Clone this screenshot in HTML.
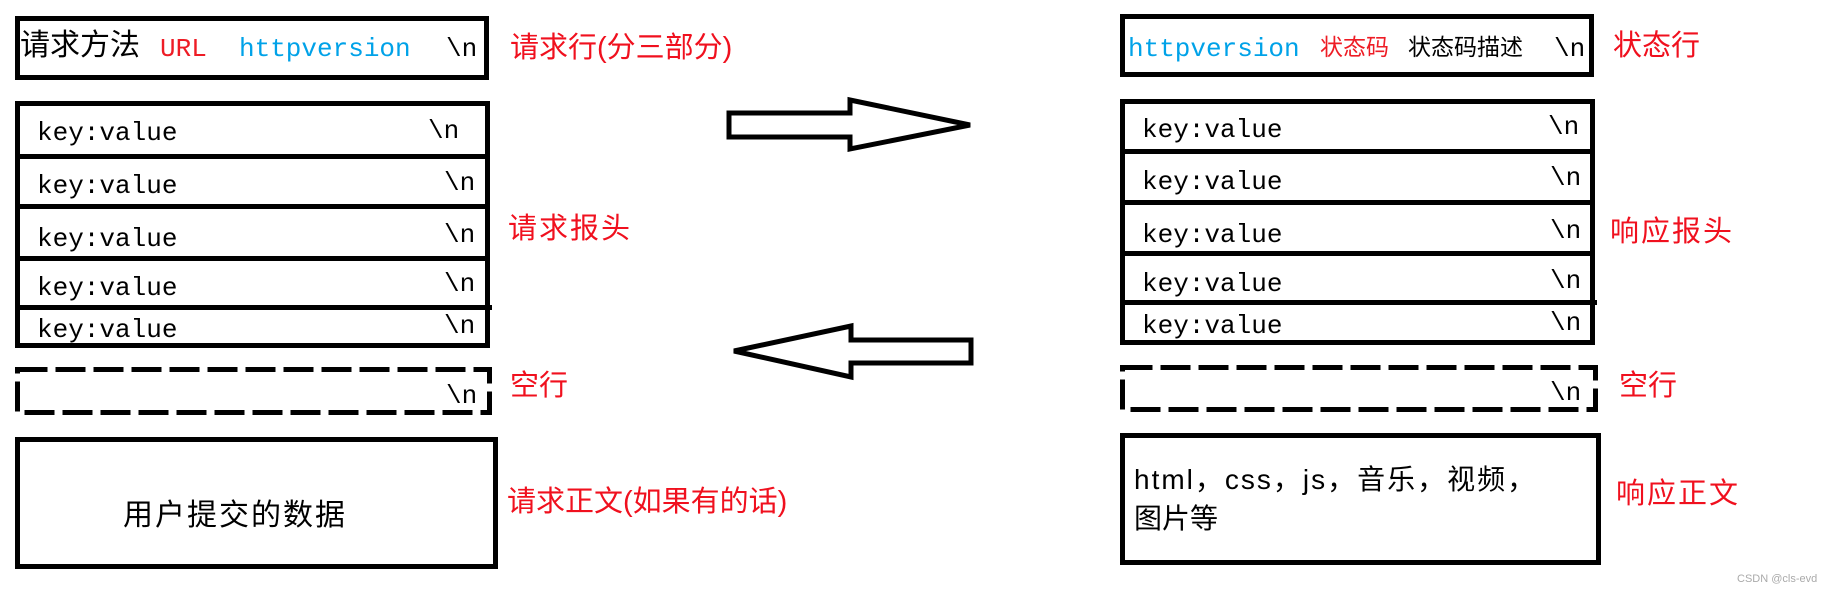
<!DOCTYPE html>
<html><head><meta charset="utf-8"><style>
html,body{margin:0;padding:0;background:#fff;}
body{width:1839px;height:595px;position:relative;overflow:hidden;font-family:"Liberation Mono","Noto Sans CJK SC",monospace;}
.b{position:absolute;border:5px solid #000;box-sizing:border-box;}
.t{position:absolute;white-space:nowrap;line-height:1;}
.m{font-family:"Liberation Mono","Noto Sans CJK SC",monospace;font-size:26px;color:#000;}
.c{font-family:"Liberation Sans","Noto Sans CJK SC",sans-serif;}
.r{color:#f0101e;font-family:"Liberation Sans","Noto Sans CJK SC",sans-serif;font-size:29px;}
.h{position:absolute;height:5px;background:#000;}
</style></head><body>

<!-- LEFT -->
<div class="b" style="left:15px;top:16px;width:474px;height:64px;"></div>
<div class="t c" style="left:20px;top:31px;font-size:30px;">请求方法</div>
<div class="t m" style="left:160px;top:36px;color:#ee1c25;">URL</div>
<div class="t m" style="left:239px;top:36px;color:#00a2e8;">httpversion</div>
<div class="t m" style="left:446px;top:36px;">\n</div>

<div class="b" style="left:15px;top:101px;width:475px;height:247px;"></div>
<div class="h" style="left:15px;top:154px;width:475px;"></div>
<div class="h" style="left:15px;top:204px;width:475px;"></div>
<div class="h" style="left:15px;top:256px;width:475px;"></div>
<div class="h" style="left:15px;top:305px;width:477px;"></div>
<div class="t m" style="left:37px;top:120px;">key:value</div>
<div class="t m" style="left:37px;top:173px;">key:value</div>
<div class="t m" style="left:37px;top:226px;">key:value</div>
<div class="t m" style="left:37px;top:275px;">key:value</div>
<div class="t m" style="left:37px;top:317px;">key:value</div>
<div class="t m" style="left:428px;top:118px;">\n</div>
<div class="t m" style="left:444px;top:170px;">\n</div>
<div class="t m" style="left:444px;top:222px;">\n</div>
<div class="t m" style="left:444px;top:271px;">\n</div>
<div class="t m" style="left:444px;top:313px;">\n</div>

<div class="t m" style="left:446px;top:383px;">\n</div>

<div class="b" style="left:15px;top:437px;width:483px;height:132px;"></div>
<div class="t c" style="left:123px;top:501px;font-size:30px;letter-spacing:2px;">用户提交的数据</div>

<div class="t r" style="left:510px;top:34px;">请求行(分三部分)</div>
<div class="t r" style="left:508px;top:215px;letter-spacing:2px;">请求报头</div>
<div class="t r" style="left:510px;top:372px;">空行</div>
<div class="t r" style="left:507px;top:488px;">请求正文(如果有的话)</div>

<svg style="position:absolute;left:0;top:0" width="1839" height="595">
<polygon points="729,113 850,113 850,100 970,125 850,149 850,137 729,137" fill="#fff" stroke="#000" stroke-width="5"/>
<polygon points="971,340 851,340 851,326 734,351 851,377 851,363 971,363" fill="#fff" stroke="#000" stroke-width="5"/>
<rect x="17.5" y="369.5" width="472" height="43" fill="none" stroke="#000" stroke-width="5" stroke-dasharray="30 8"/>
<rect x="1122.5" y="367.5" width="473" height="42" fill="none" stroke="#000" stroke-width="5" stroke-dasharray="30 8"/>
</svg>

<!-- RIGHT -->
<div class="b" style="left:1120px;top:14px;width:474px;height:63px;"></div>
<div class="t m" style="left:1128px;top:36px;color:#00a2e8;">httpversion</div>
<div class="t c" style="left:1320px;top:36px;font-size:23px;color:#ee1c25;">状态码</div>
<div class="t c" style="left:1408px;top:36px;font-size:23px;">状态码描述</div>
<div class="t m" style="left:1554px;top:36px;">\n</div>

<div class="b" style="left:1120px;top:99px;width:475px;height:246px;"></div>
<div class="h" style="left:1120px;top:149px;width:475px;"></div>
<div class="h" style="left:1120px;top:200px;width:475px;"></div>
<div class="h" style="left:1120px;top:251px;width:475px;"></div>
<div class="h" style="left:1120px;top:300px;width:477px;"></div>
<div class="t m" style="left:1142px;top:117px;">key:value</div>
<div class="t m" style="left:1142px;top:169px;">key:value</div>
<div class="t m" style="left:1142px;top:222px;">key:value</div>
<div class="t m" style="left:1142px;top:271px;">key:value</div>
<div class="t m" style="left:1142px;top:313px;">key:value</div>
<div class="t m" style="left:1548px;top:114px;">\n</div>
<div class="t m" style="left:1550px;top:165px;">\n</div>
<div class="t m" style="left:1550px;top:218px;">\n</div>
<div class="t m" style="left:1550px;top:268px;">\n</div>
<div class="t m" style="left:1550px;top:310px;">\n</div>

<div class="t m" style="left:1550px;top:380px;">\n</div>

<div class="b" style="left:1120px;top:433px;width:481px;height:132px;"></div>
<div class="t c" style="left:1134px;top:466px;font-size:28px;letter-spacing:2px;">html，css，js，音乐，视频，</div>
<div class="t c" style="left:1134px;top:505px;font-size:28px;">图片等</div>

<div class="t r" style="left:1613px;top:32px;">状态行</div>
<div class="t r" style="left:1610px;top:218px;letter-spacing:2px;">响应报头</div>
<div class="t r" style="left:1619px;top:372px;">空行</div>
<div class="t r" style="left:1616px;top:480px;letter-spacing:2px;">响应正文</div>

<div class="t c" style="left:1737px;top:574px;font-size:11px;color:#aaa;">CSDN @cls-evd</div>
</body></html>
